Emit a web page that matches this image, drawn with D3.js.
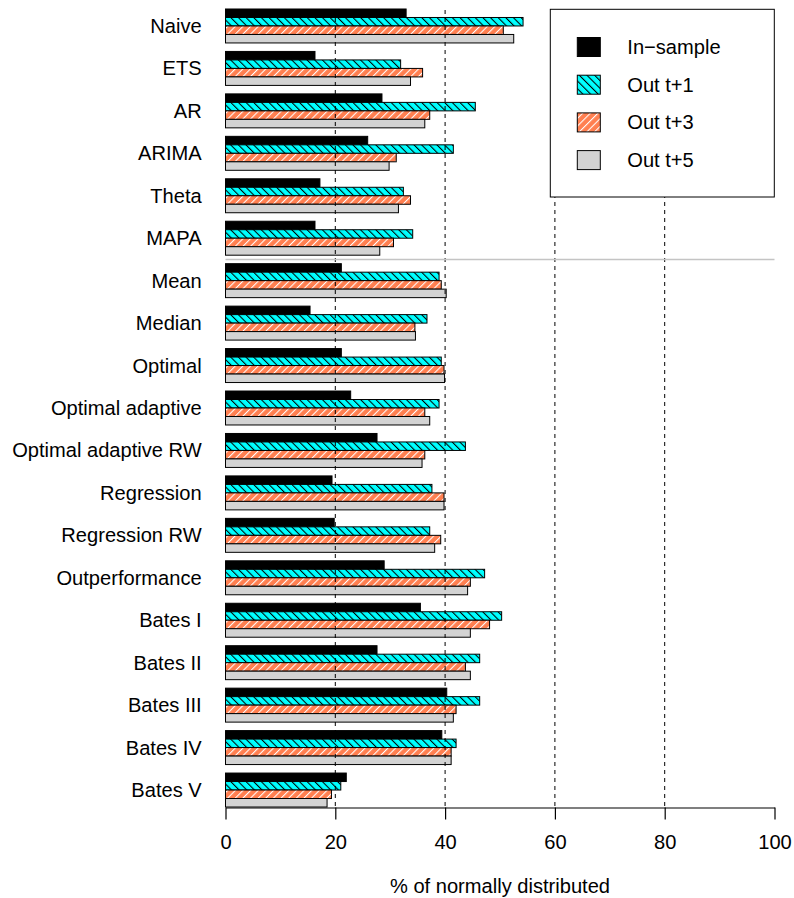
<!DOCTYPE html>
<html>
<head>
<meta charset="utf-8">
<script src="https://cdn.jsdelivr.net/npm/d3@7"></script>
<style>
  html, body { margin: 0; padding: 0; background: #fff; }
  svg { display: block; font-family: "Liberation Sans", Arial, Helvetica, sans-serif; }
</style>
</head>
<body>
<svg id="chart" width="794" height="898"></svg>
<script>
// Methods, top to bottom
const methods = ["Naive", "ETS", "AR", "ARIMA", "Theta", "MAPA",
  "Mean", "Median", "Optimal", "Optimal adaptive", "Optimal adaptive RW",
  "Regression", "Regression RW", "Outperformance",
  "Bates I", "Bates II", "Bates III", "Bates IV", "Bates V"];

const seriesNames = ["In\u2212sample", "Out t+1", "Out t+3", "Out t+5"];

// % of normally distributed, per method
const inSample = [32.9, 16.3, 28.5, 25.9, 17.2, 16.3, 21.1, 15.4, 21.1, 22.8, 27.6, 19.4, 19.8, 28.9, 35.5, 27.6, 40.3, 39.4, 22.0];
const outT1   = [54.2, 31.9, 45.5, 41.5, 32.4, 34.1, 38.9, 36.7, 39.3, 38.9, 43.7, 37.6, 37.2, 47.2, 50.3, 46.3, 46.3, 42.0, 21.0];
const outT3   = [50.6, 35.9, 37.2, 31.1, 33.7, 30.6, 39.3, 34.5, 39.8, 36.3, 36.3, 39.8, 39.2, 44.6, 48.1, 43.7, 42.0, 41.1, 19.3];
const outT5   = [52.5, 33.7, 36.3, 29.8, 31.5, 28.1, 40.2, 34.6, 39.9, 37.2, 35.8, 39.8, 38.1, 44.1, 44.6, 44.6, 41.5, 41.1, 18.5];

const xTicks = [0, 20, 40, 60, 80, 100];
const gridValues = [20, 40, 60, 80];
// the individual models end after this one; combinations follow
const lastSingleModel = "MAPA";

const seriesData = [inSample, outT1, outT3, outT5];

const svg = d3.select("#chart");
const FONT = 20.1;

const x = d3.scaleLinear().domain([0, 100]).range([225.5, 774.5]);
const y = d3.scaleBand().domain(methods).range([4.75, 811.25])
  .paddingInner(0.2).paddingOuter(0.1);
const ySub = d3.scaleBand().domain(d3.range(4)).range([0, y.bandwidth()]);
const axisY = 807.5;

// hatch patterns
const defs = svg.append("defs");
function hatch(id, bg, line, angle) {
  const p = defs.append("pattern").attr("id", id)
    .attr("patternUnits", "userSpaceOnUse")
    .attr("width", 5.4).attr("height", 10)
    .attr("patternTransform", `rotate(${angle})`);
  p.append("rect").attr("width", 5.4).attr("height", 10).attr("fill", bg);
  p.append("line").attr("x1", 0.5).attr("x2", 0.5).attr("y1", -1).attr("y2", 11)
    .attr("stroke", line).attr("stroke-width", 1.1);
}
hatch("hatchCyan", "#00FFFF", "#000", -45);
hatch("hatchCoral", "#FF7F50", "#fff", 45);

const fills = ["#000000", "url(#hatchCyan)", "url(#hatchCoral)", "#D3D3D3"];

// bars
const groups = svg.append("g").selectAll("g").data(methods).join("g")
  .attr("transform", d => `translate(0,${y(d)})`);

groups.selectAll("rect")
  .data((m, i) => seriesData.map((s, k) => ({ k, v: s[i] })))
  .join("rect")
  .attr("x", x(0))
  .attr("y", d => ySub(d.k))
  .attr("width", d => x(d.v) - x(0))
  .attr("height", ySub.bandwidth())
  .attr("fill", d => fills[d.k])
  .attr("stroke", "#000")
  .attr("stroke-width", 1);

// dashed reference lines
svg.append("g").selectAll("line").data(gridValues).join("line")
  .attr("x1", d => x(d)).attr("x2", d => x(d))
  .attr("y1", 10).attr("y2", axisY)
  .attr("stroke", "#000").attr("stroke-width", 1)
  .attr("stroke-dasharray", "4,4");

// separator between single models and combinations
const sepY = (y(lastSingleModel) + y.bandwidth() + y(methods[methods.indexOf(lastSingleModel) + 1])) / 2;
svg.append("line")
  .attr("x1", x(0)).attr("x2", x(100))
  .attr("y1", sepY).attr("y2", sepY)
  .attr("stroke", "#c4c4c4").attr("stroke-width", 1.6);

// category labels
svg.append("g").selectAll("text").data(methods).join("text")
  .attr("x", 201.7)
  .attr("y", d => y(d) + y.bandwidth() / 2)
  .attr("text-anchor", "end")
  .attr("dominant-baseline", "central")
  .attr("font-size", FONT)
  .text(d => d);

// x axis
const xAxis = d3.axisBottom(x).tickValues(xTicks).tickSize(12).tickPadding(10)
  .tickSizeOuter(0);
const ax = svg.append("g").attr("transform", `translate(0,${axisY})`).call(xAxis);
ax.select(".domain").attr("stroke", "#000").attr("stroke-width", 1.2);
ax.selectAll(".tick line").attr("stroke", "#000").attr("stroke-width", 1.2);
ax.selectAll(".tick text").attr("font-size", FONT).attr("fill", "#000")
  .attr("font-family", "Liberation Sans, Arial, sans-serif")
  .attr("dy", null).attr("y", 34).attr("dominant-baseline", "central");

svg.append("text")
  .attr("x", (x(0) + x(100)) / 2).attr("y", 886)
  .attr("text-anchor", "middle").attr("dominant-baseline", "central")
  .attr("font-size", FONT)
  .text("% of normally distributed");

// legend
const lg = svg.append("g");
lg.append("rect")
  .attr("x", 550.3).attr("y", 9.3)
  .attr("width", 774.3 - 550.3).attr("height", 197 - 9.3)
  .attr("fill", "#fff").attr("stroke", "#000").attr("stroke-width", 1);
const legendItems = lg.selectAll("g.item").data(seriesNames).join("g")
  .attr("class", "item")
  .attr("transform", (d, i) => `translate(0,${47 + i * 37.7})`);
legendItems.append("rect")
  .attr("x", 577.3).attr("y", -9.5)
  .attr("width", 23).attr("height", 19)
  .attr("fill", (d, i) => fills[i])
  .attr("stroke", "#000").attr("stroke-width", 1);
legendItems.append("text")
  .attr("x", 627.3).attr("y", 0)
  .attr("dominant-baseline", "central")
  .attr("font-size", FONT)
  .text(d => d);
</script>
</body>
</html>
